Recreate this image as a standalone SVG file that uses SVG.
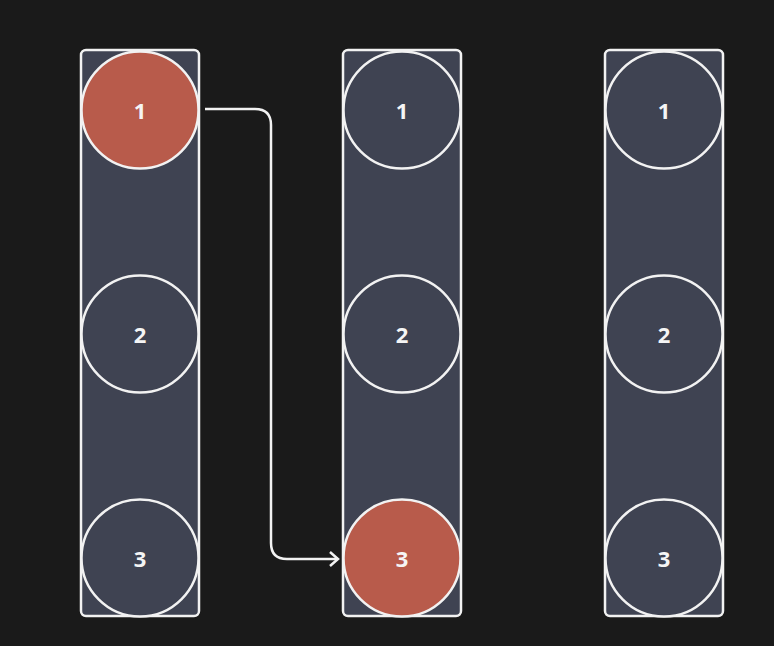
<svg xmlns="http://www.w3.org/2000/svg" width="774" height="646" viewBox="0 0 774 646">
<style>
.col{fill:#3f4352;stroke:#f2f2f2;stroke-width:2.5}
.node{fill:#3f4352;stroke:#f2f2f2;stroke-width:2.5}
.hot{fill:#b85b4b;stroke:#f2f2f2;stroke-width:2.5}
.lbl{font-family:"Open Sans","Noto Sans",sans-serif;font-size:22px;font-weight:700;fill:#f5f5f5;text-anchor:middle;dominant-baseline:central}
.wire{fill:none;stroke:#f2f2f2;stroke-width:2.5}
</style>
<defs>
<marker id="arr" markerWidth="12" markerHeight="16" refX="10" refY="8" orient="auto" markerUnits="userSpaceOnUse">
<path d="M2,1 L10,8 L2,15" fill="none" stroke="#f2f2f2" stroke-width="2.5"/>
</marker>
</defs>
<rect width="774" height="646" fill="#1a1a1a"/>
<g id="column1"><rect class="col" x="81" y="50" width="118" height="566" rx="5"/></g>
<g id="column2"><rect class="col" x="343" y="50" width="118" height="566" rx="5"/></g>
<g id="column3"><rect class="col" x="605" y="50" width="118" height="566" rx="5"/></g>
<g id="c1n1"><circle class="hot" cx="140" cy="110" r="58.5"/><text class="lbl" x="140" y="110">1</text></g>
<g id="c1n2"><circle class="node" cx="140" cy="334" r="58.5"/><text class="lbl" x="140" y="334">2</text></g>
<g id="c1n3"><circle class="node" cx="140" cy="558" r="58.5"/><text class="lbl" x="140" y="558">3</text></g>
<g id="c2n1"><circle class="node" cx="402" cy="110" r="58.5"/><text class="lbl" x="402" y="110">1</text></g>
<g id="c2n2"><circle class="node" cx="402" cy="334" r="58.5"/><text class="lbl" x="402" y="334">2</text></g>
<g id="c2n3"><circle class="hot" cx="402" cy="558" r="58.5"/><text class="lbl" x="402" y="558">3</text></g>
<g id="c3n1"><circle class="node" cx="664" cy="110" r="58.5"/><text class="lbl" x="664" y="110">1</text></g>
<g id="c3n2"><circle class="node" cx="664" cy="334" r="58.5"/><text class="lbl" x="664" y="334">2</text></g>
<g id="c3n3"><circle class="node" cx="664" cy="558" r="58.5"/><text class="lbl" x="664" y="558">3</text></g>
<g id="connectors">
<path class="wire" d="M205,109 H255 Q271,109 271,125 V543 Q271,559 287,559 H338" marker-end="url(#arr)"/>
</g>
</svg>
